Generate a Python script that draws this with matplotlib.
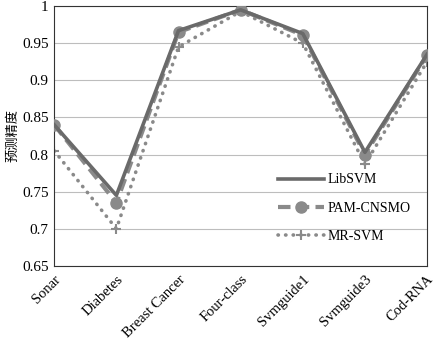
import numpy as np
import matplotlib.pyplot as plt

datasets = ['Sonar', 'Diabetes', 'Breast Cancer', 'Four-class',
            'Svmguide1', 'Svmguide3', 'Cod-RNA']
libsvm = [0.840, 0.745, 0.967, 0.995, 0.963, 0.803, 0.935]
pam_cnsmo = [0.840, 0.735, 0.965, 0.995, 0.961, 0.800, 0.934]
mr_svm = [0.805, 0.700, 0.945, 0.993, 0.950, 0.787, 0.925]

plt.rcParams['font.family'] = ['Liberation Serif', 'Noto Sans CJK SC']

fig, ax = plt.subplots(figsize=(4.34, 3.4), dpi=100)
fig.subplots_adjust(left=0.125, right=0.984, top=0.982, bottom=0.218)

x = np.arange(len(datasets))
ax.plot(x, libsvm, color='#6a6a6a', lw=2.6, label='LibSVM', zorder=4)
ax.plot(x, pam_cnsmo, color='#8a8a8a', lw=3, ls=(0, (3, 1.5)),
        marker='o', ms=8, label='PAM-CNSMO', zorder=3)
ax.plot(x, mr_svm, color='#8a8a8a', lw=2.6, ls=(0, (0.1, 2)),
        dash_capstyle='round', marker='+', ms=7, mew=1.5,
        label='MR-SVM', zorder=2)

ax.set_xlim(0, 6)
ax.set_ylim(0.65, 1.0)
ax.set_yticks([0.65, 0.7, 0.75, 0.8, 0.85, 0.9, 0.95, 1.0])
ax.set_yticklabels(['0.65', '0.7', '0.75', '0.8', '0.85', '0.9', '0.95', '1'])
ax.set_xticks(x)
ax.set_xticklabels(datasets, rotation=45, ha='right', rotation_mode='anchor')
ax.tick_params(length=0, labelsize=11)
ax.tick_params(axis='x', pad=5, labelsize=10.5)
ax.tick_params(axis='y', pad=4)

ax.grid(axis='y', color='#bdbdbd', lw=0.8)
ax.set_axisbelow(True)
for s in ax.spines.values():
    s.set_color('#333333')

ax.set_ylabel('预测精度', family='Noto Sans CJK SC', fontsize=9.5, labelpad=2)

ax.legend(loc='lower right', bbox_to_anchor=(0.99, 0.04), frameon=False,
          fontsize=10, handlelength=3.3, labelspacing=1.1, handletextpad=0.3)

plt.savefig('out.png')
